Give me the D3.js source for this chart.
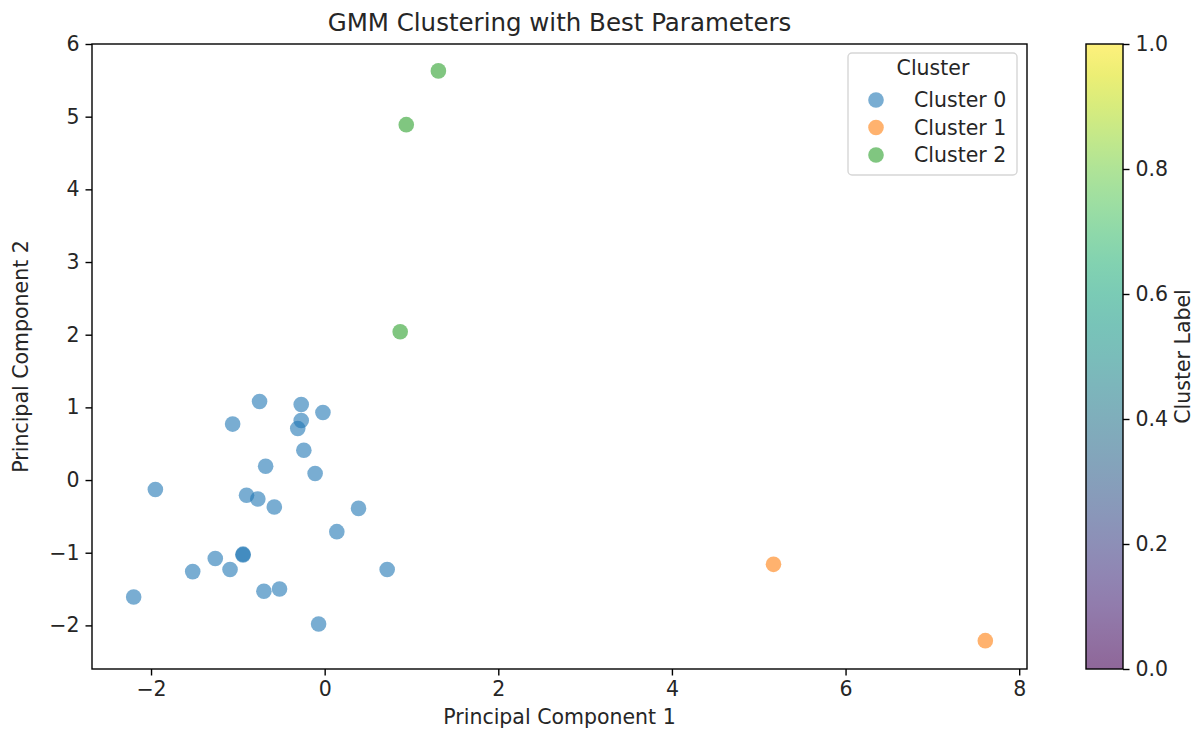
<!DOCTYPE html>
<html>
<head>
<meta charset="utf-8">
<script src="https://cdn.jsdelivr.net/npm/d3@7/dist/d3.min.js"></script>
<style>
  body { margin: 0; background: #fff; }
  svg text { font-family: "DejaVu Sans", sans-serif; fill: #262626; }
</style>
</head>
<body>
<div id="chart"></div>
<script>
// cluster 0 points (PC1, PC2)
var cluster0X = [-2.20, -1.95, -1.52, -1.26, -1.09, -1.06, -0.94, -0.94, -0.90, -0.77, -0.75, -0.70, -0.68, -0.58, -0.52, -0.31, -0.27, -0.27, -0.24, -0.11, -0.07, -0.02, 0.14, 0.39, 0.72];
var cluster0Y = [-1.61, -0.13, -1.26, -1.08, -1.23, 0.77, -1.02, -1.03, -0.21, -0.26, 1.08, -1.53, 0.19, -0.37, -1.50, 0.71, 0.82, 1.04, 0.41, 0.09, -1.98, 0.93, -0.71, -0.39, -1.23];
// cluster 1
var cluster1X = [5.17, 7.61];
var cluster1Y = [-1.16, -2.21];
// cluster 2
var cluster2X = [1.31, 0.94, 0.87];
var cluster2Y = [5.63, 4.89, 2.04];

var clusterNames = ["Cluster 0", "Cluster 1", "Cluster 2"];
var clusterColors = ["#1f77b4", "#ff7f0e", "#2ca02c"];
var xTicks = [-2, 0, 2, 4, 6, 8];
var yTicks = [-2, -1, 0, 1, 2, 3, 4, 5, 6];
var cbarTicks = [0.0, 0.2, 0.4, 0.6, 0.8, 1.0];

var W = 1200, H = 733;
var margin = { top: 44, right: 173, bottom: 64, left: 92 },
  width = W - margin.left - margin.right,
  height = H - margin.top - margin.bottom;
var fs = "20.5px";

var svg = d3
  .select("#chart")
  .append("svg")
  .attr("width", W)
  .attr("height", H);

var g = svg.append("g")
  .attr("transform", "translate(" + margin.left + "," + margin.top + ")");

// scales
var x = d3.scaleLinear().domain([-2.68, 8.09]).range([0, width]);
var y = d3.scaleLinear().domain([-2.60, 6.0]).range([height, 0]);

// build the point list from the arrays
var points = [];
[[cluster0X, cluster0Y], [cluster1X, cluster1Y], [cluster2X, cluster2Y]].forEach(function (c, k) {
  c[0].forEach(function (v, i) {
    points.push({ x: v, y: c[1][i], c: k });
  });
});

g.selectAll("circle.pt")
  .data(points)
  .enter()
  .append("circle")
  .attr("class", "pt")
  .attr("cx", function (d) { return x(d.x); })
  .attr("cy", function (d) { return y(d.y); })
  .attr("r", 7.8)
  .style("fill", function (d) { return clusterColors[d.c]; })
  .style("fill-opacity", 0.6);

// axes
var tickFmt = function (d) { return d < 0 ? "\u2212" + Math.abs(d) : d; };
var xAxis = g.append("g")
  .attr("transform", "translate(0," + height + ")")
  .call(d3.axisBottom(x).tickValues(xTicks).tickFormat(tickFmt).tickSize(6.5).tickPadding(6).tickSizeOuter(0));
var yAxis = g.append("g")
  .call(d3.axisLeft(y).tickValues(yTicks).tickFormat(tickFmt).tickSize(6.5).tickPadding(6).tickSizeOuter(0));
[xAxis, yAxis].forEach(function (a) {
  a.select(".domain").remove();
  a.selectAll("line").attr("stroke", "#000").attr("stroke-width", 1.4);
  a.selectAll("text").style("font-size", fs).attr("fill", "#262626");
});

// frame
g.append("rect")
  .attr("width", width)
  .attr("height", height)
  .attr("fill", "none")
  .attr("stroke", "#000")
  .attr("stroke-width", 1.4);

// titles
svg.append("text")
  .attr("x", margin.left + width / 2)
  .attr("y", 31)
  .attr("text-anchor", "middle")
  .style("font-size", "24.5px")
  .text("GMM Clustering with Best Parameters");
svg.append("text")
  .attr("x", margin.left + width / 2)
  .attr("y", 724)
  .attr("text-anchor", "middle")
  .style("font-size", fs)
  .text("Principal Component 1");
svg.append("text")
  .attr("transform", "translate(28," + (margin.top + height / 2) + ") rotate(-90)")
  .attr("text-anchor", "middle")
  .style("font-size", fs)
  .text("Principal Component 2");

// legend
var lg = svg.append("g").attr("transform", "translate(848,53)");
lg.append("rect")
  .attr("width", 169)
  .attr("height", 122)
  .attr("rx", 4)
  .attr("fill", "#fff")
  .attr("fill-opacity", 0.8)
  .attr("stroke", "#d6d6d6")
  .attr("stroke-width", 1.4);
lg.append("text")
  .attr("x", 85)
  .attr("y", 22)
  .attr("text-anchor", "middle")
  .style("font-size", fs)
  .text("Cluster");
clusterNames.forEach(function (name, i) {
  lg.append("circle")
    .attr("cx", 28)
    .attr("cy", 47 + i * 27.5)
    .attr("r", 7.8)
    .style("fill", clusterColors[i])
    .style("fill-opacity", 0.6);
  lg.append("text")
    .attr("x", 66)
    .attr("y", 54 + i * 27.5)
    .style("font-size", fs)
    .text(name);
});

// colorbar
var cbX = 1086, cbW = 37;
var cb = d3.scaleLinear().domain([0, 1]).range([margin.top + height, margin.top]);
var defs = svg.append("defs");
var grad = defs.append("linearGradient")
  .attr("id", "viridis")
  .attr("x1", 0).attr("y1", 1).attr("x2", 0).attr("y2", 0);
d3.range(0, 1.0001, 0.05).forEach(function (t) {
  grad.append("stop")
    .attr("offset", t)
    .attr("stop-color", d3.interpolateViridis(t))
    .attr("stop-opacity", 0.6);
});
svg.append("rect")
  .attr("x", cbX)
  .attr("y", margin.top)
  .attr("width", cbW)
  .attr("height", height)
  .attr("fill", "url(#viridis)")
  .attr("stroke", "#000")
  .attr("stroke-width", 1.4);
var cbAxis = svg.append("g")
  .attr("transform", "translate(" + (cbX + cbW) + ",0)")
  .call(d3.axisRight(cb).tickValues(cbarTicks).tickFormat(d3.format(".1f")).tickSize(6.5).tickPadding(6).tickSizeOuter(0));
cbAxis.select(".domain").remove();
cbAxis.selectAll("line").attr("stroke", "#000").attr("stroke-width", 1.4);
cbAxis.selectAll("text").style("font-size", fs).attr("fill", "#262626");
svg.append("text")
  .attr("transform", "translate(1190," + (margin.top + height / 2) + ") rotate(-90)")
  .attr("text-anchor", "middle")
  .style("font-size", fs)
  .text("Cluster Label");
</script>
</body>
</html>
